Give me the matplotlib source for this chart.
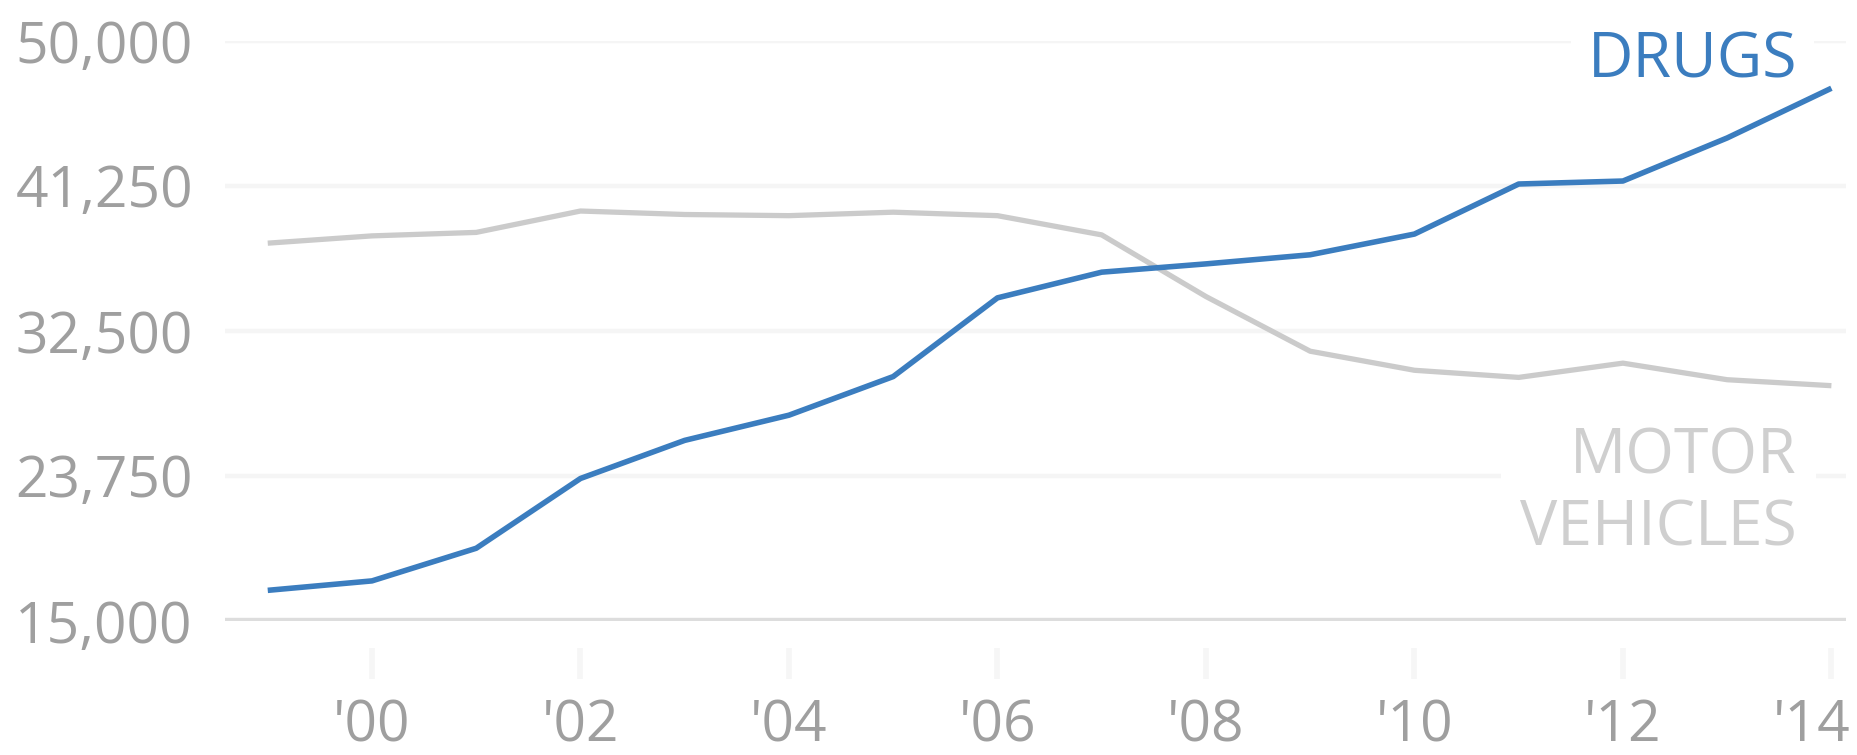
import numpy as np
import matplotlib.pyplot as plt
import matplotlib.transforms as mtransforms

years = np.arange(1999, 2015)
drugs = [16850, 17420, 19390, 23600, 25900, 27420, 29750, 34500, 36050, 36550,
         37100, 38350, 41370, 41550, 44150, 47150]
motor = [37800, 38240, 38450, 39740, 39530, 39460, 39670, 39460, 38300, 34580,
         31280, 30130, 29700, 30560, 29560, 29200]
yticks = [15000, 23750, 32500, 41250, 50000]
xticks = [2000, 2002, 2004, 2006, 2008, 2010, 2012, 2014]
xlabels = ["'00", "'02", "'04", "'06", "'08", "'10", "'12", "'14"]

blue = '#3b7dbf'
grey = '#cbcbcb'
tick_grey = '#9f9f9f'

plt.rcParams['font.family'] = ['Open Sans', 'DejaVu Sans']

fig = plt.figure(figsize=(18.57, 7.55), dpi=100)
ax = fig.add_axes([225/1857, 1 - 621/755, (1846 - 225)/1857, 580/755])

# gridlines and baseline
for v in yticks[1:]:
    ax.axhline(v, color='#f5f5f5', lw=3.2, zorder=1)
ax.axhline(yticks[0], color='#dddddd', lw=4.6, zorder=2)

ax.plot(years, motor, color=grey, lw=3.8, solid_capstyle='butt', zorder=4)
ax.plot(years, drugs, color=blue, lw=4.0, solid_capstyle='butt', zorder=5)

ax.set_xlim(1998.59, 2014.14)
ax.set_ylim(15000, 50000)

ax.set_yticks(yticks)
ax.set_yticklabels([f'{v:,}' for v in yticks], ha='left')
ax.set_xticks(xticks)
ax.set_xticklabels(xlabels)

for s in ['top', 'right', 'left']:
    ax.spines[s].set_visible(False)
ax.spines['bottom'].set_position(('outward', 19.5))
ax.spines['bottom'].set_visible(False)

ax.tick_params(axis='y', length=0, pad=151, labelsize=41, labelcolor=tick_grey)
ax.tick_params(axis='x', direction='out', length=22, width=4, color='#f6f6f6',
               pad=14, labelsize=41, labelcolor=tick_grey)

# last year label sits a little to the left so it stays inside the picture
last = ax.get_xticklabels()[-1]
last.set_transform(last.get_transform() +
                   mtransforms.ScaledTranslation(-20/100, 0, fig.dpi_scale_trans))

# series labels (white boxes hide the gridlines, lines stay on top)
ax.text(2013.67, 48750, 'DRUGS', color=blue, fontsize=45, ha='right', va='center',
        zorder=3, bbox=dict(facecolor='white', edgecolor='none', pad=12))
ax.text(2013.67, 22720, 'MOTOR\nVEHICLES', color='#cfcfcf', fontsize=45, ha='right',
        va='center', multialignment='right', linespacing=1.2, zorder=3,
        bbox=dict(facecolor='white', edgecolor='none', pad=14))

fig.savefig('out.png', dpi=100)
